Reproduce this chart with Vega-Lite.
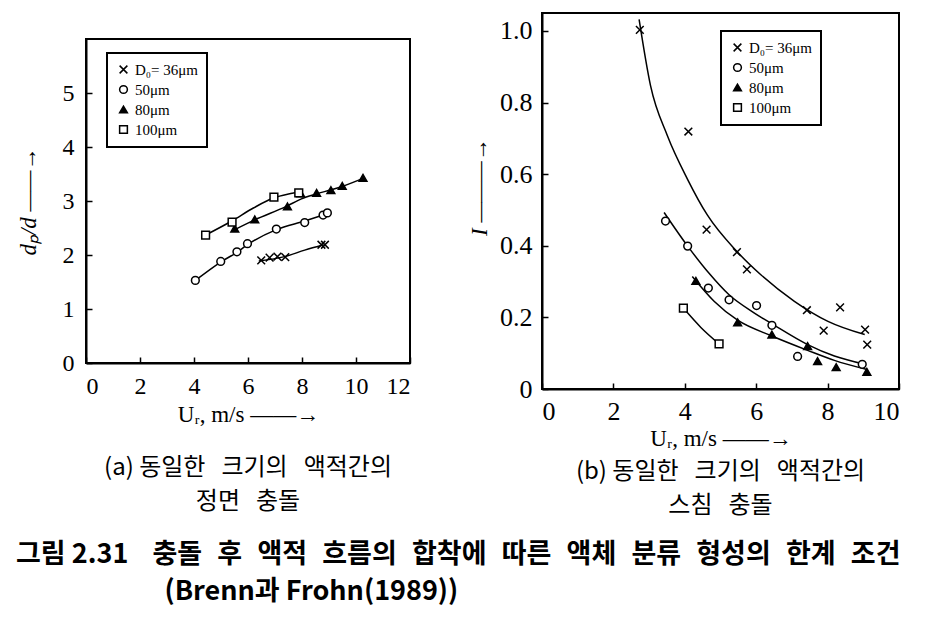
{
  "$schema": "https://vega.github.io/schema/vega-lite/v6.json",
  "background": "white",
  "padding": {"left": 16, "top": 12, "right": 10, "bottom": 5},
  "config": {
    "view": {"stroke": "black", "strokeWidth": 2},
    "axis": {
      "domainColor": "black", "domainWidth": 2, "tickColor": "black", "tickWidth": 1.5, "tickSize": -6,
      "grid": false, "labelFont": "Liberation Serif", "labelFontSize": 24, "labelColor": "black",
      "titleFont": "Liberation Serif", "titleFontSize": 23, "titleColor": "black", "titleFontWeight": "normal"
    },
    "legend": {
      "labelFont": "Liberation Serif", "labelFontSize": 15, "labelColor": "black",
      "strokeColor": "black", "strokeWidth": 2, "padding": 9, "fillColor": "white",
      "symbolSize": 60, "rowPadding": 4
    },
    "title": {"color": "black", "fontWeight": "normal"}
  },
  "title": {
    "text": ["그림 2.31\u2002\u2006 충돌\u2002\u200a후\u2002\u200a액적\u2002\u200a흐름의\u2002\u200a합착에\u2002\u200a따른\u2002\u200a액체\u2002\u200a분류\u2002\u200a형성의\u2002\u200a한계\u2002\u200a조건", "\u200b\u3000\u3000\u3000\u3000\u3000\u2002(Brenn과 Frohn(1989))"],
    "orient": "bottom", "anchor": "start", "frame": "bounds",
    "font": "Noto Sans CJK KR", "fontSize": 27, "fontWeight": "bold", "lineHeight": 37, "offset": 23
  },
  "datasets": {
    "pa": [
      {"D": "36", "u": 6.49, "r": 1.90}, {"D": "36", "u": 6.80, "r": 1.95}, {"D": "36", "u": 7.09, "r": 1.97}, {"D": "36", "u": 7.38, "r": 1.96}, {"D": "36", "u": 8.72, "r": 2.19}, {"D": "36", "u": 8.85, "r": 2.19},
      {"D": "50", "u": 4.05, "r": 1.53}, {"D": "50", "u": 4.99, "r": 1.88}, {"D": "50", "u": 5.59, "r": 2.06}, {"D": "50", "u": 5.98, "r": 2.21}, {"D": "50", "u": 7.05, "r": 2.48}, {"D": "50", "u": 8.10, "r": 2.60}, {"D": "50", "u": 8.78, "r": 2.74}, {"D": "50", "u": 8.94, "r": 2.78},
      {"D": "80", "u": 5.51, "r": 2.49}, {"D": "80", "u": 6.25, "r": 2.66}, {"D": "80", "u": 7.46, "r": 2.90}, {"D": "80", "u": 7.95, "r": 3.14}, {"D": "80", "u": 8.54, "r": 3.15}, {"D": "80", "u": 9.07, "r": 3.20}, {"D": "80", "u": 9.49, "r": 3.28}, {"D": "80", "u": 10.26, "r": 3.43},
      {"D": "100", "u": 4.43, "r": 2.37}, {"D": "100", "u": 5.41, "r": 2.61}, {"D": "100", "u": 6.96, "r": 3.07}, {"D": "100", "u": 7.88, "r": 3.15}
    ],
    "ca": [
      {"D": "36", "u": 6.40, "r": 1.89}, {"D": "36", "u": 7.36, "r": 1.97}, {"D": "36", "u": 8.10, "r": 2.09}, {"D": "36", "u": 8.80, "r": 2.19},
      {"D": "50", "u": 4.05, "r": 1.53}, {"D": "50", "u": 4.99, "r": 1.87}, {"D": "50", "u": 5.59, "r": 2.05}, {"D": "50", "u": 5.98, "r": 2.19}, {"D": "50", "u": 7.05, "r": 2.47}, {"D": "50", "u": 8.10, "r": 2.63}, {"D": "50", "u": 8.90, "r": 2.76},
      {"D": "80", "u": 5.51, "r": 2.47}, {"D": "80", "u": 6.25, "r": 2.65}, {"D": "80", "u": 7.42, "r": 2.90}, {"D": "80", "u": 7.98, "r": 3.04}, {"D": "80", "u": 8.53, "r": 3.13}, {"D": "80", "u": 9.09, "r": 3.21}, {"D": "80", "u": 9.48, "r": 3.27}, {"D": "80", "u": 10.26, "r": 3.42},
      {"D": "100", "u": 4.43, "r": 2.37}, {"D": "100", "u": 5.40, "r": 2.63}, {"D": "100", "u": 6.20, "r": 2.87}, {"D": "100", "u": 6.96, "r": 3.06}, {"D": "100", "u": 7.50, "r": 3.13}, {"D": "100", "u": 7.95, "r": 3.17}
    ],
    "pb": [
      {"D": "36", "u": 2.74, "i": 1.003}, {"D": "36", "u": 4.10, "i": 0.719}, {"D": "36", "u": 4.61, "i": 0.445}, {"D": "36", "u": 5.46, "i": 0.382}, {"D": "36", "u": 5.74, "i": 0.334}, {"D": "36", "u": 7.42, "i": 0.220}, {"D": "36", "u": 7.89, "i": 0.163}, {"D": "36", "u": 8.35, "i": 0.228}, {"D": "36", "u": 9.05, "i": 0.166}, {"D": "36", "u": 9.11, "i": 0.124},
      {"D": "50", "u": 3.46, "i": 0.469}, {"D": "50", "u": 4.08, "i": 0.399}, {"D": "50", "u": 4.66, "i": 0.282}, {"D": "50", "u": 5.24, "i": 0.249}, {"D": "50", "u": 6.01, "i": 0.233}, {"D": "50", "u": 6.44, "i": 0.178}, {"D": "50", "u": 7.16, "i": 0.091}, {"D": "50", "u": 8.97, "i": 0.069},
      {"D": "80", "u": 4.31, "i": 0.302}, {"D": "80", "u": 5.48, "i": 0.186}, {"D": "80", "u": 6.44, "i": 0.152}, {"D": "80", "u": 7.44, "i": 0.120}, {"D": "80", "u": 7.72, "i": 0.078}, {"D": "80", "u": 8.24, "i": 0.061}, {"D": "80", "u": 9.10, "i": 0.048},
      {"D": "100", "u": 3.96, "i": 0.226}, {"D": "100", "u": 4.96, "i": 0.126}
    ],
    "cb": [
      {"D": "36", "u": 2.72, "i": 1.032}, {"D": "36", "u": 3.04, "i": 0.847}, {"D": "36", "u": 3.51, "i": 0.708}, {"D": "36", "u": 4.07, "i": 0.587}, {"D": "36", "u": 4.63, "i": 0.486}, {"D": "36", "u": 5.46, "i": 0.384}, {"D": "36", "u": 6.13, "i": 0.319}, {"D": "36", "u": 7.07, "i": 0.245}, {"D": "36", "u": 8.01, "i": 0.189}, {"D": "36", "u": 9.04, "i": 0.152},
      {"D": "50", "u": 3.42, "i": 0.493}, {"D": "50", "u": 4.08, "i": 0.399}, {"D": "50", "u": 4.68, "i": 0.323}, {"D": "50", "u": 5.24, "i": 0.263}, {"D": "50", "u": 5.95, "i": 0.212}, {"D": "50", "u": 6.44, "i": 0.182}, {"D": "50", "u": 7.44, "i": 0.124}, {"D": "50", "u": 8.19, "i": 0.092}, {"D": "50", "u": 9.04, "i": 0.069},
      {"D": "80", "u": 4.21, "i": 0.314}, {"D": "80", "u": 4.82, "i": 0.245}, {"D": "80", "u": 5.48, "i": 0.192}, {"D": "80", "u": 6.44, "i": 0.148}, {"D": "80", "u": 7.44, "i": 0.108}, {"D": "80", "u": 8.19, "i": 0.080}, {"D": "80", "u": 9.08, "i": 0.055},
      {"D": "100", "u": 3.96, "i": 0.226}, {"D": "100", "u": 4.45, "i": 0.172}, {"D": "100", "u": 4.96, "i": 0.126}
    ]
  },
  "bounds": "flush",
  "center": true,
  "spacing": 132,
  "resolve": {"scale": {"shape": "independent", "fill": "independent"}, "legend": {"shape": "independent", "fill": "independent"}},
  "hconcat": [
    {
      "width": 324, "height": 324,
      "title": {"text": ["(a) 동일한\u2002\u2006크기의\u2002\u2006액적간의", "정면\u2002\u2006충돌"], "orient": "bottom", "offset": 30, "font": "Noto Sans CJK KR", "fontSize": 24, "lineHeight": 34},
      "layer": [
        {
          "data": {"name": "ca"},
          "mark": {"type": "line", "interpolate": "monotone", "color": "black", "strokeWidth": 1.5},
          "encoding": {
            "x": {"field": "u", "type": "quantitative", "scale": {"domain": [0, 12], "nice": false},
                  "axis": {"values": [0, 2, 4, 6, 8, 10, 12], "format": "d", "title": "Uᵣ, m/s ——→", "labelPadding": 17, "titlePadding": 5}},
            "y": {"field": "r", "type": "quantitative", "scale": {"domain": [0, 6], "nice": false},
                  "axis": {"values": [0, 1, 2, 3, 4, 5], "format": "d", "title": "dₚ/d  ——→", "titleFontStyle": "italic", "labelPadding": 18, "titlePadding": 22}},
            "detail": {"field": "D"}
          }
        },
        {
          "data": {"name": "pa"},
          "mark": {"type": "point", "stroke": "black", "strokeWidth": 1.5, "size": 60, "opacity": 1},
          "encoding": {
            "x": {"field": "u", "type": "quantitative"},
            "y": {"field": "r", "type": "quantitative"},
            "shape": {"field": "D", "type": "nominal",
                      "scale": {"domain": ["36", "50", "80", "100"], "range": ["M-1,-1L1,1M-1,1L1,-1", "circle", "triangle-up", "square"]},
                      "legend": {"title": null, "orient": "none", "legendX": 21, "legendY": 14, "labelExpr": "datum.value == '36' ? 'D₀= 36μm' : datum.value + 'μm'",
                                 "encode": {"symbols": {"update": {"stroke": {"value": "black"}, "strokeWidth": {"value": 1.5}}}}}},
            "fill": {"field": "D", "type": "nominal",
                     "scale": {"domain": ["36", "50", "80", "100"], "range": ["white", "white", "black", "white"]},
                     "legend": {"title": null, "orient": "none", "legendX": 21, "legendY": 14, "labelExpr": "datum.value == '36' ? 'D₀= 36μm' : datum.value + 'μm'",
                                "encode": {"symbols": {"update": {"stroke": {"value": "black"}, "strokeWidth": {"value": 1.5}}}}}}
          }
        }
      ]
    },
    {
      "width": 357, "height": 376,
      "title": {"text": ["(b) 동일한\u2002\u2006크기의\u2002\u2006액적간의", "스침\u2002\u2006충돌"], "orient": "bottom", "offset": 10, "font": "Noto Sans CJK KR", "fontSize": 24, "lineHeight": 34},
      "layer": [
        {
          "data": {"name": "cb"},
          "mark": {"type": "line", "interpolate": "monotone", "color": "black", "strokeWidth": 1.5},
          "encoding": {
            "x": {"field": "u", "type": "quantitative", "scale": {"domain": [0, 10], "nice": false},
                  "axis": {"values": [0, 2, 4, 6, 8, 10], "format": "d", "title": "Uᵣ, m/s ——→", "labelPadding": 15, "titlePadding": 3, "labelFontSize": 26}},
            "y": {"field": "i", "type": "quantitative", "scale": {"domain": [0, 1.05], "nice": false},
                  "axis": {"values": [0, 0.2, 0.4, 0.6, 0.8, 1.0], "labelExpr": "datum.value == 0 ? '0' : format(datum.value, '.1f')", "title": "\u200b\u00a0\u00a0\u00a0\u00a0\u00a0I  ———→", "titleFontStyle": "italic", "labelPadding": 16, "titlePadding": 8, "labelFontSize": 26}},
            "detail": {"field": "D"}
          }
        },
        {
          "data": {"name": "pb"},
          "mark": {"type": "point", "stroke": "black", "strokeWidth": 1.5, "size": 60, "opacity": 1},
          "encoding": {
            "x": {"field": "u", "type": "quantitative"},
            "y": {"field": "i", "type": "quantitative"},
            "shape": {"field": "D", "type": "nominal",
                      "scale": {"domain": ["36", "50", "80", "100"], "range": ["M-1,-1L1,1M-1,1L1,-1", "circle", "triangle-up", "square"]},
                      "legend": {"title": null, "orient": "none", "legendX": 179, "legendY": 18, "labelExpr": "datum.value == '36' ? 'D₀= 36μm' : datum.value + 'μm'",
                                 "encode": {"symbols": {"update": {"stroke": {"value": "black"}, "strokeWidth": {"value": 1.5}}}}}},
            "fill": {"field": "D", "type": "nominal",
                     "scale": {"domain": ["36", "50", "80", "100"], "range": ["white", "white", "black", "white"]},
                     "legend": {"title": null, "orient": "none", "legendX": 179, "legendY": 18, "labelExpr": "datum.value == '36' ? 'D₀= 36μm' : datum.value + 'μm'",
                                "encode": {"symbols": {"update": {"stroke": {"value": "black"}, "strokeWidth": {"value": 1.5}}}}}}
          }
        }
      ]
    }
  ]
}
